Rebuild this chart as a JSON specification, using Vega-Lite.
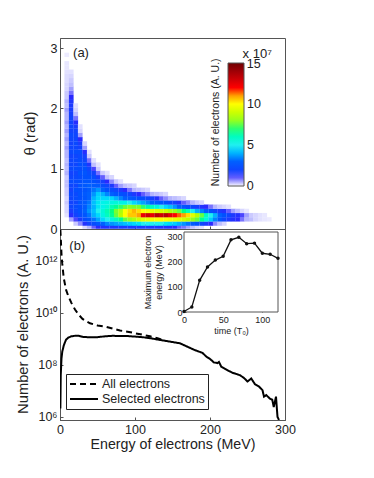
{"$schema":"https://vega.github.io/schema/vega-lite/v6.json","width":225,"height":382,"autosize":{"type":"none"},"padding":{"left":60,"top":38,"right":89,"bottom":58},"background":"white",
"config":{"font":"Liberation Sans","view":{"stroke":"#555","strokeWidth":1},"axis":{"grid":false,"labelFlush":false,"labelOverlap":false,"domainColor":"#555","tickColor":"#555","labelColor":"#222","titleColor":"#222","labelFont":"Liberation Sans","titleFont":"Liberation Sans","titleFontWeight":"normal"},"legend":{"labelFont":"Liberation Sans"}},
"datasets":{"cells":[
{"e":9,"t":0.23,"n":0.2},{"e":9,"t":0.3,"n":0.3},{"e":9,"t":0.37,"n":0.3},{"e":9,"t":0.44,"n":0.4},{"e":9,"t":0.51,"n":0.3},{"e":9,"t":0.58,"n":0.4},{"e":9,"t":0.65,"n":0.4},{"e":9,"t":0.72,"n":0.5},{"e":9,"t":0.79,"n":0.5},{"e":9,"t":0.86,"n":0.4},{"e":9,"t":0.93,"n":0.6},{"e":9,"t":1,"n":0.5},{"e":9,"t":1.07,"n":0.6},{"e":9,"t":1.14,"n":0.5},{"e":9,"t":1.21,"n":0.6},{"e":9,"t":1.28,"n":0.6},{"e":9,"t":1.35,"n":0.7},{"e":9,"t":1.42,"n":0.6},{"e":9,"t":1.49,"n":0.7},{"e":9,"t":1.56,"n":0.6},{"e":9,"t":1.63,"n":0.7},{"e":9,"t":1.7,"n":0.6},{"e":9,"t":1.77,"n":0.7},{"e":9,"t":1.84,"n":0.6},{"e":9,"t":1.91,"n":0.6},{"e":9,"t":1.98,"n":0.7},{"e":9,"t":2.05,"n":0.5},{"e":9,"t":2.12,"n":0.6},{"e":9,"t":2.19,"n":0.4},{"e":9,"t":2.26,"n":0.4},{"e":9,"t":2.33,"n":0.3},{"e":9,"t":2.4,"n":0.3},{"e":9,"t":2.47,"n":0.25},{"e":9,"t":2.54,"n":0.25},{"e":9,"t":2.61,"n":0.2},{"e":9,"t":2.68,"n":0.15},{"e":9,"t":2.75,"n":0.15},{"e":9,"t":2.89,"n":0.12},
{"e":15,"t":0.16,"n":0.7},{"e":15,"t":0.23,"n":1.3},{"e":15,"t":0.3,"n":1.7},{"e":15,"t":0.37,"n":2},{"e":15,"t":0.44,"n":1.9},{"e":15,"t":0.51,"n":2},{"e":15,"t":0.58,"n":2.1},{"e":15,"t":0.65,"n":1.9},{"e":15,"t":0.72,"n":2},{"e":15,"t":0.79,"n":2.2},{"e":15,"t":0.86,"n":2},{"e":15,"t":0.93,"n":1.9},{"e":15,"t":1,"n":2.1},{"e":15,"t":1.07,"n":2},{"e":15,"t":1.14,"n":2},{"e":15,"t":1.21,"n":1.9},{"e":15,"t":1.28,"n":2.1},{"e":15,"t":1.35,"n":2},{"e":15,"t":1.42,"n":1.9},{"e":15,"t":1.49,"n":2},{"e":15,"t":1.56,"n":2.1},{"e":15,"t":1.63,"n":1.9},{"e":15,"t":1.7,"n":2},{"e":15,"t":1.77,"n":1.9},{"e":15,"t":1.84,"n":2},{"e":15,"t":1.91,"n":1.8},{"e":15,"t":1.98,"n":1.7},{"e":15,"t":2.05,"n":1.6},{"e":15,"t":2.12,"n":1.5},{"e":15,"t":2.19,"n":1.2},{"e":15,"t":2.26,"n":0.9},{"e":15,"t":2.33,"n":0.7},{"e":15,"t":2.4,"n":0.5},{"e":15,"t":2.47,"n":0.4},{"e":15,"t":2.54,"n":0.3},{"e":15,"t":2.61,"n":0.2},
{"e":21,"t":0.09,"n":0.4},{"e":21,"t":0.16,"n":1.1},{"e":21,"t":0.23,"n":1.9},{"e":21,"t":0.3,"n":2.1},{"e":21,"t":0.37,"n":2.2},{"e":21,"t":0.44,"n":2},{"e":21,"t":0.51,"n":2.2},{"e":21,"t":0.58,"n":2.1},{"e":21,"t":0.65,"n":2.3},{"e":21,"t":0.72,"n":2},{"e":21,"t":0.79,"n":2.2},{"e":21,"t":0.86,"n":2.1},{"e":21,"t":0.93,"n":2},{"e":21,"t":1,"n":2.2},{"e":21,"t":1.07,"n":2},{"e":21,"t":1.14,"n":2.1},{"e":21,"t":1.21,"n":2},{"e":21,"t":1.28,"n":2.2},{"e":21,"t":1.35,"n":2},{"e":21,"t":1.42,"n":2.1},{"e":21,"t":1.49,"n":2},{"e":21,"t":1.56,"n":2},{"e":21,"t":1.63,"n":1.9},{"e":21,"t":1.7,"n":1.7},{"e":21,"t":1.77,"n":1.3},{"e":21,"t":1.84,"n":0.9},{"e":21,"t":1.91,"n":0.5},{"e":21,"t":1.98,"n":0.3},{"e":21,"t":2.05,"n":0.2},
{"e":27,"t":0.09,"n":0.8},{"e":27,"t":0.16,"n":1.7},{"e":27,"t":0.23,"n":2.2},{"e":27,"t":0.3,"n":2.4},{"e":27,"t":0.37,"n":2.3},{"e":27,"t":0.44,"n":2.5},{"e":27,"t":0.51,"n":2.3},{"e":27,"t":0.58,"n":2.4},{"e":27,"t":0.65,"n":2.3},{"e":27,"t":0.72,"n":2.5},{"e":27,"t":0.79,"n":2.3},{"e":27,"t":0.86,"n":2.2},{"e":27,"t":0.93,"n":2.4},{"e":27,"t":1,"n":2.2},{"e":27,"t":1.07,"n":2.3},{"e":27,"t":1.14,"n":2.2},{"e":27,"t":1.21,"n":2.1},{"e":27,"t":1.28,"n":2.2},{"e":27,"t":1.35,"n":1.9},{"e":27,"t":1.42,"n":1.7},{"e":27,"t":1.49,"n":1.2},{"e":27,"t":1.56,"n":0.7},{"e":27,"t":1.63,"n":0.3},{"e":27,"t":1.7,"n":0.2},
{"e":33,"t":0.04,"n":0.3},{"e":33,"t":0.09,"n":1.4},{"e":33,"t":0.16,"n":2.2},{"e":33,"t":0.23,"n":2.6},{"e":33,"t":0.3,"n":3},{"e":33,"t":0.37,"n":2.8},{"e":33,"t":0.44,"n":2.8},{"e":33,"t":0.51,"n":2.6},{"e":33,"t":0.58,"n":2.7},{"e":33,"t":0.65,"n":2.5},{"e":33,"t":0.72,"n":2.7},{"e":33,"t":0.79,"n":2.6},{"e":33,"t":0.86,"n":2.4},{"e":33,"t":0.93,"n":2.5},{"e":33,"t":1,"n":2.4},{"e":33,"t":1.07,"n":2.2},{"e":33,"t":1.14,"n":2},{"e":33,"t":1.21,"n":1.8},{"e":33,"t":1.28,"n":1.3},{"e":33,"t":1.35,"n":0.7},{"e":33,"t":1.42,"n":0.3},
{"e":39,"t":0.04,"n":0.6},{"e":39,"t":0.09,"n":1.9},{"e":39,"t":0.16,"n":2.6},{"e":39,"t":0.23,"n":3.2},{"e":39,"t":0.3,"n":3.6},{"e":39,"t":0.37,"n":3.4},{"e":39,"t":0.44,"n":3.2},{"e":39,"t":0.51,"n":3},{"e":39,"t":0.58,"n":3},{"e":39,"t":0.65,"n":2.8},{"e":39,"t":0.72,"n":3},{"e":39,"t":0.79,"n":2.6},{"e":39,"t":0.86,"n":2.4},{"e":39,"t":0.93,"n":2.2},{"e":39,"t":1,"n":2},{"e":39,"t":1.07,"n":1.5},{"e":39,"t":1.14,"n":0.9},{"e":39,"t":1.21,"n":0.4},{"e":39,"t":1.28,"n":0.2},
{"e":45,"t":0.04,"n":1},{"e":45,"t":0.09,"n":2.2},{"e":45,"t":0.16,"n":3.2},{"e":45,"t":0.23,"n":4},{"e":45,"t":0.3,"n":4.2},{"e":45,"t":0.37,"n":4},{"e":45,"t":0.44,"n":4.2},{"e":45,"t":0.51,"n":4},{"e":45,"t":0.58,"n":3.6},{"e":45,"t":0.65,"n":3.2},{"e":45,"t":0.72,"n":2.8},{"e":45,"t":0.79,"n":2.4},{"e":45,"t":0.86,"n":2.2},{"e":45,"t":0.93,"n":1.9},{"e":45,"t":1,"n":1.1},{"e":45,"t":1.07,"n":0.5},{"e":45,"t":1.14,"n":0.2},
{"e":51,"t":0.04,"n":1.2},{"e":51,"t":0.09,"n":2.6},{"e":51,"t":0.16,"n":3.8},{"e":51,"t":0.23,"n":4.6},{"e":51,"t":0.3,"n":5},{"e":51,"t":0.37,"n":4.8},{"e":51,"t":0.44,"n":4.8},{"e":51,"t":0.51,"n":4.6},{"e":51,"t":0.58,"n":4.4},{"e":51,"t":0.65,"n":3.6},{"e":51,"t":0.72,"n":2.8},{"e":51,"t":0.79,"n":2.2},{"e":51,"t":0.86,"n":1.7},{"e":51,"t":0.93,"n":0.9},{"e":51,"t":1,"n":0.4},{"e":51,"t":1.07,"n":0.2},
{"e":57,"t":0.04,"n":1.4},{"e":57,"t":0.09,"n":3},{"e":57,"t":0.16,"n":4.6},{"e":57,"t":0.23,"n":5.4},{"e":57,"t":0.3,"n":5.6},{"e":57,"t":0.37,"n":5.2},{"e":57,"t":0.44,"n":5.2},{"e":57,"t":0.51,"n":4.6},{"e":57,"t":0.58,"n":4},{"e":57,"t":0.65,"n":3},{"e":57,"t":0.72,"n":2.2},{"e":57,"t":0.79,"n":1.8},{"e":57,"t":0.86,"n":1},{"e":57,"t":0.93,"n":0.4},
{"e":63,"t":0.04,"n":1.4},{"e":63,"t":0.09,"n":3.4},{"e":63,"t":0.16,"n":5},{"e":63,"t":0.23,"n":6},{"e":63,"t":0.3,"n":6.2},{"e":63,"t":0.37,"n":5.6},{"e":63,"t":0.44,"n":5.4},{"e":63,"t":0.51,"n":4.6},{"e":63,"t":0.58,"n":3.4},{"e":63,"t":0.65,"n":2.4},{"e":63,"t":0.72,"n":2},{"e":63,"t":0.79,"n":1.2},{"e":63,"t":0.86,"n":0.5},{"e":63,"t":0.93,"n":0.2},
{"e":69,"t":0.04,"n":1.5},{"e":69,"t":0.09,"n":3.6},{"e":69,"t":0.16,"n":5.4},{"e":69,"t":0.23,"n":6.6},{"e":69,"t":0.3,"n":6.8},{"e":69,"t":0.37,"n":6.2},{"e":69,"t":0.44,"n":5.4},{"e":69,"t":0.51,"n":4.6},{"e":69,"t":0.58,"n":3},{"e":69,"t":0.65,"n":2.2},{"e":69,"t":0.72,"n":1.6},{"e":69,"t":0.79,"n":0.8},{"e":69,"t":0.86,"n":0.3},
{"e":75,"t":0.04,"n":1.5},{"e":75,"t":0.09,"n":3.8},{"e":75,"t":0.16,"n":6},{"e":75,"t":0.23,"n":7.4},{"e":75,"t":0.3,"n":7.6},{"e":75,"t":0.37,"n":6.6},{"e":75,"t":0.44,"n":5.6},{"e":75,"t":0.51,"n":4},{"e":75,"t":0.58,"n":2.6},{"e":75,"t":0.65,"n":2},{"e":75,"t":0.72,"n":1},{"e":75,"t":0.79,"n":0.4},
{"e":81,"t":0.04,"n":1.6},{"e":81,"t":0.09,"n":4},{"e":81,"t":0.16,"n":6.6},{"e":81,"t":0.23,"n":8.6},{"e":81,"t":0.3,"n":8.4},{"e":81,"t":0.37,"n":7},{"e":81,"t":0.44,"n":5.4},{"e":81,"t":0.51,"n":3.4},{"e":81,"t":0.58,"n":2.4},{"e":81,"t":0.65,"n":1.6},{"e":81,"t":0.72,"n":0.7},{"e":81,"t":0.79,"n":0.2},
{"e":87,"t":0.04,"n":1.6},{"e":87,"t":0.09,"n":4.2},{"e":87,"t":0.16,"n":7.4},{"e":87,"t":0.23,"n":10},{"e":87,"t":0.3,"n":10},{"e":87,"t":0.37,"n":7.4},{"e":87,"t":0.44,"n":5.2},{"e":87,"t":0.51,"n":3},{"e":87,"t":0.58,"n":2.2},{"e":87,"t":0.65,"n":1.2},{"e":87,"t":0.72,"n":0.5},
{"e":93,"t":0.04,"n":1.6},{"e":93,"t":0.09,"n":4.4},{"e":93,"t":0.16,"n":8},{"e":93,"t":0.23,"n":10.6},{"e":93,"t":0.3,"n":10.4},{"e":93,"t":0.37,"n":7.8},{"e":93,"t":0.44,"n":5},{"e":93,"t":0.51,"n":2.8},{"e":93,"t":0.58,"n":2},{"e":93,"t":0.65,"n":0.9},{"e":93,"t":0.72,"n":0.4},
{"e":99,"t":0.04,"n":1.6},{"e":99,"t":0.09,"n":4.6},{"e":99,"t":0.16,"n":8.4},{"e":99,"t":0.23,"n":10.6},{"e":99,"t":0.3,"n":10.8},{"e":99,"t":0.37,"n":7.6},{"e":99,"t":0.44,"n":4.6},{"e":99,"t":0.51,"n":2.6},{"e":99,"t":0.58,"n":1.6},{"e":99,"t":0.65,"n":0.6},{"e":99,"t":0.72,"n":0.3},
{"e":105,"t":0.04,"n":1.6},{"e":105,"t":0.09,"n":4.8},{"e":105,"t":0.16,"n":9},{"e":105,"t":0.23,"n":11},{"e":105,"t":0.3,"n":10.4},{"e":105,"t":0.37,"n":7.6},{"e":105,"t":0.44,"n":4.2},{"e":105,"t":0.51,"n":2.4},{"e":105,"t":0.58,"n":1.2},{"e":105,"t":0.65,"n":0.5},
{"e":111,"t":0.04,"n":1.6},{"e":111,"t":0.09,"n":5},{"e":111,"t":0.16,"n":9.4},{"e":111,"t":0.23,"n":12.4},{"e":111,"t":0.3,"n":10},{"e":111,"t":0.37,"n":7},{"e":111,"t":0.44,"n":3.8},{"e":111,"t":0.51,"n":2.2},{"e":111,"t":0.58,"n":1},{"e":111,"t":0.65,"n":0.4},
{"e":117,"t":0.04,"n":1.6},{"e":117,"t":0.09,"n":5},{"e":117,"t":0.16,"n":9.6},{"e":117,"t":0.23,"n":13},{"e":117,"t":0.3,"n":9.8},{"e":117,"t":0.37,"n":6.4},{"e":117,"t":0.44,"n":3.4},{"e":117,"t":0.51,"n":2},{"e":117,"t":0.58,"n":0.8},{"e":117,"t":0.65,"n":0.3},
{"e":123,"t":0.04,"n":1.5},{"e":123,"t":0.09,"n":5},{"e":123,"t":0.16,"n":9.8},{"e":123,"t":0.23,"n":12.5},{"e":123,"t":0.3,"n":9.6},{"e":123,"t":0.37,"n":6},{"e":123,"t":0.44,"n":3},{"e":123,"t":0.51,"n":1.8},{"e":123,"t":0.58,"n":0.6},
{"e":129,"t":0.04,"n":1.5},{"e":129,"t":0.09,"n":5},{"e":129,"t":0.16,"n":10},{"e":129,"t":0.23,"n":13.5},{"e":129,"t":0.3,"n":9.4},{"e":129,"t":0.37,"n":5.6},{"e":129,"t":0.44,"n":2.8},{"e":129,"t":0.51,"n":1.4},{"e":129,"t":0.58,"n":0.5},
{"e":135,"t":0.04,"n":1.4},{"e":135,"t":0.09,"n":5},{"e":135,"t":0.16,"n":10},{"e":135,"t":0.23,"n":13},{"e":135,"t":0.3,"n":9.2},{"e":135,"t":0.37,"n":5},{"e":135,"t":0.44,"n":2.6},{"e":135,"t":0.51,"n":1},{"e":135,"t":0.58,"n":0.4},
{"e":141,"t":0.04,"n":1.4},{"e":141,"t":0.09,"n":4.8},{"e":141,"t":0.16,"n":10},{"e":141,"t":0.23,"n":13.5},{"e":141,"t":0.3,"n":9},{"e":141,"t":0.37,"n":4.6},{"e":141,"t":0.44,"n":2.4},{"e":141,"t":0.51,"n":0.8},{"e":141,"t":0.58,"n":0.3},
{"e":147,"t":0.04,"n":1.3},{"e":147,"t":0.09,"n":4.6},{"e":147,"t":0.16,"n":9.8},{"e":147,"t":0.23,"n":12.6},{"e":147,"t":0.3,"n":8.4},{"e":147,"t":0.37,"n":4.2},{"e":147,"t":0.44,"n":2},{"e":147,"t":0.51,"n":0.6},
{"e":153,"t":0.04,"n":1.2},{"e":153,"t":0.09,"n":4.4},{"e":153,"t":0.16,"n":9.6},{"e":153,"t":0.23,"n":12},{"e":153,"t":0.3,"n":8},{"e":153,"t":0.37,"n":3.6},{"e":153,"t":0.44,"n":1.8},{"e":153,"t":0.51,"n":0.5},
{"e":159,"t":0.04,"n":1},{"e":159,"t":0.09,"n":4},{"e":159,"t":0.16,"n":9.4},{"e":159,"t":0.23,"n":11.6},{"e":159,"t":0.3,"n":7.4},{"e":159,"t":0.37,"n":3},{"e":159,"t":0.44,"n":1.4},{"e":159,"t":0.51,"n":0.4},
{"e":165,"t":0.04,"n":0.9},{"e":165,"t":0.09,"n":3.6},{"e":165,"t":0.16,"n":9},{"e":165,"t":0.23,"n":11},{"e":165,"t":0.3,"n":6.8},{"e":165,"t":0.37,"n":2.6},{"e":165,"t":0.44,"n":1},{"e":165,"t":0.51,"n":0.3},
{"e":171,"t":0.04,"n":0.7},{"e":171,"t":0.09,"n":3.2},{"e":171,"t":0.16,"n":8.6},{"e":171,"t":0.23,"n":10.4},{"e":171,"t":0.3,"n":6},{"e":171,"t":0.37,"n":2.2},{"e":171,"t":0.44,"n":0.8},
{"e":177,"t":0.04,"n":0.5},{"e":177,"t":0.09,"n":2.8},{"e":177,"t":0.16,"n":8},{"e":177,"t":0.23,"n":9.4},{"e":177,"t":0.3,"n":5},{"e":177,"t":0.37,"n":2},{"e":177,"t":0.44,"n":0.6},
{"e":183,"t":0.04,"n":0.3},{"e":183,"t":0.09,"n":2.4},{"e":183,"t":0.16,"n":7.4},{"e":183,"t":0.23,"n":8.6},{"e":183,"t":0.3,"n":4},{"e":183,"t":0.37,"n":1.8},{"e":183,"t":0.44,"n":0.4},
{"e":189,"t":0.04,"n":0.2},{"e":189,"t":0.09,"n":2},{"e":189,"t":0.16,"n":6.6},{"e":189,"t":0.23,"n":7.4},{"e":189,"t":0.3,"n":3.4},{"e":189,"t":0.37,"n":1.4},{"e":189,"t":0.44,"n":0.3},
{"e":195,"t":0.09,"n":1.6},{"e":195,"t":0.16,"n":5.6},{"e":195,"t":0.23,"n":6},{"e":195,"t":0.3,"n":2.8},{"e":195,"t":0.37,"n":1.2},
{"e":201,"t":0.09,"n":1.2},{"e":201,"t":0.16,"n":4.4},{"e":201,"t":0.23,"n":5},{"e":201,"t":0.3,"n":2.4},{"e":201,"t":0.37,"n":0.9},
{"e":207,"t":0.09,"n":0.8},{"e":207,"t":0.16,"n":3.4},{"e":207,"t":0.23,"n":4},{"e":207,"t":0.3,"n":2},{"e":207,"t":0.37,"n":0.6},
{"e":213,"t":0.09,"n":0.5},{"e":213,"t":0.16,"n":2.6},{"e":213,"t":0.23,"n":3},{"e":213,"t":0.3,"n":1.6},{"e":213,"t":0.37,"n":0.4},
{"e":219,"t":0.09,"n":0.3},{"e":219,"t":0.16,"n":2},{"e":219,"t":0.23,"n":2.4},{"e":219,"t":0.3,"n":1.4},{"e":219,"t":0.37,"n":0.3},
{"e":225,"t":0.16,"n":1.6},{"e":225,"t":0.23,"n":2},{"e":225,"t":0.3,"n":1},{"e":225,"t":0.37,"n":0.2},
{"e":231,"t":0.16,"n":1.4},{"e":231,"t":0.23,"n":1.6},{"e":231,"t":0.3,"n":0.7},
{"e":237,"t":0.16,"n":1.2},{"e":237,"t":0.23,"n":1.4},{"e":237,"t":0.3,"n":0.5},
{"e":243,"t":0.16,"n":0.9},{"e":243,"t":0.23,"n":1.1},{"e":243,"t":0.3,"n":0.3},
{"e":249,"t":0.16,"n":0.6},{"e":249,"t":0.23,"n":0.7},{"e":249,"t":0.3,"n":0.15},
{"e":255,"t":0.16,"n":0.5},{"e":255,"t":0.23,"n":0.4},
{"e":261,"t":0.16,"n":0.3},{"e":261,"t":0.23,"n":0.3},
{"e":267,"t":0.16,"n":0.2},{"e":267,"t":0.23,"n":0.2},
{"e":273,"t":0.16,"n":0.15},{"e":273,"t":0.23,"n":0.15},
{"e":279,"t":0.16,"n":0.12}
],
"spectra":[
{"E":0.5,"v":1.6e13,"s":"All electrons"},{"E":1,"v":7.9e12,"s":"All electrons"},{"E":2,"v":1.8e12,"s":"All electrons"},{"E":3,"v":7.9e11,"s":"All electrons"},{"E":5,"v":2.2e11,"s":"All electrons"},{"E":8,"v":7.9e10,"s":"All electrons"},{"E":11,"v":4.5e10,"s":"All electrons"},{"E":15,"v":2.5e10,"s":"All electrons"},{"E":20,"v":1.35e10,"s":"All electrons"},{"E":25,"v":8.5e9,"s":"All electrons"},{"E":30,"v":5.9e9,"s":"All electrons"},{"E":35,"v":4.8e9,"s":"All electrons"},{"E":40,"v":4e9,"s":"All electrons"},{"E":50,"v":3.3e9,"s":"All electrons"},{"E":60,"v":3e9,"s":"All electrons"},{"E":70,"v":2.5e9,"s":"All electrons"},{"E":80,"v":2.1e9,"s":"All electrons"},{"E":90,"v":1.9e9,"s":"All electrons"},{"E":100,"v":1.66e9,"s":"All electrons"},{"E":110,"v":1.45e9,"s":"All electrons"},{"E":120,"v":1.26e9,"s":"All electrons"},{"E":130,"v":1.07e9,"s":"All electrons"},{"E":140,"v":8.6e8,"s":"All electrons"},
{"E":0.5,"v":2.1e6,"s":"Selected electrons"},{"E":1,"v":4e7,"s":"Selected electrons"},{"E":2,"v":1.8e8,"s":"Selected electrons"},{"E":3,"v":3.2e8,"s":"Selected electrons"},{"E":5,"v":5.6e8,"s":"Selected electrons"},{"E":8,"v":9.3e8,"s":"Selected electrons"},{"E":11,"v":1.12e9,"s":"Selected electrons"},{"E":15,"v":1.26e9,"s":"Selected electrons"},{"E":20,"v":1.32e9,"s":"Selected electrons"},{"E":25,"v":1.32e9,"s":"Selected electrons"},{"E":30,"v":1.2e9,"s":"Selected electrons"},{"E":40,"v":1.15e9,"s":"Selected electrons"},{"E":50,"v":1.17e9,"s":"Selected electrons"},{"E":60,"v":1.26e9,"s":"Selected electrons"},{"E":70,"v":1.32e9,"s":"Selected electrons"},{"E":80,"v":1.29e9,"s":"Selected electrons"},{"E":90,"v":1.29e9,"s":"Selected electrons"},{"E":100,"v":1.23e9,"s":"Selected electrons"},{"E":110,"v":1.17e9,"s":"Selected electrons"},{"E":120,"v":1.07e9,"s":"Selected electrons"},{"E":130,"v":9.5e8,"s":"Selected electrons"},{"E":140,"v":8.5e8,"s":"Selected electrons"},{"E":150,"v":7.6e8,"s":"Selected electrons"},{"E":160,"v":6.8e8,"s":"Selected electrons"},{"E":170,"v":5e8,"s":"Selected electrons"},{"E":180,"v":3.7e8,"s":"Selected electrons"},{"E":190,"v":2.9e8,"s":"Selected electrons"},{"E":195,"v":2.1e8,"s":"Selected electrons"},{"E":200,"v":1.7e8,"s":"Selected electrons"},{"E":205,"v":1.26e8,"s":"Selected electrons"},{"E":210,"v":1.17e8,"s":"Selected electrons"},{"E":212,"v":1.3e8,"s":"Selected electrons"},{"E":215,"v":8.5e7,"s":"Selected electrons"},{"E":220,"v":7.1e7,"s":"Selected electrons"},{"E":225,"v":5.9e7,"s":"Selected electrons"},{"E":230,"v":5e7,"s":"Selected electrons"},{"E":235,"v":4.5e7,"s":"Selected electrons"},{"E":240,"v":4e7,"s":"Selected electrons"},{"E":245,"v":3.2e7,"s":"Selected electrons"},{"E":250,"v":2.3e7,"s":"Selected electrons"},{"E":255,"v":3e7,"s":"Selected electrons"},{"E":260,"v":1.8e7,"s":"Selected electrons"},{"E":265,"v":1.5e7,"s":"Selected electrons"},{"E":270,"v":1.07e7,"s":"Selected electrons"},{"E":272,"v":6e6,"s":"Selected electrons"},{"E":275,"v":6.9e6,"s":"Selected electrons"},{"E":280,"v":5e6,"s":"Selected electrons"},{"E":283,"v":4.6e6,"s":"Selected electrons"},{"E":285,"v":2.4e6,"s":"Selected electrons"},{"E":288,"v":6e6,"s":"Selected electrons"},{"E":290,"v":1e6,"s":"Selected electrons"},{"E":292,"v":7.6e5,"s":"Selected electrons"}
],
"inset":[{"T":0,"M":2},{"T":10,"M":20},{"T":20,"M":125},{"T":30,"M":178},{"T":40,"M":205},{"T":50,"M":220},{"T":60,"M":285},{"T":70,"M":295},{"T":80,"M":270},{"T":90,"M":272},{"T":100,"M":232},{"T":110,"M":228},{"T":120,"M":212}]},
"resolve":{"scale":{"x":"independent","y":"independent","color":"independent"},"axis":{"x":"independent","y":"independent"}},
"layer":[
{"layer":[
{"data":{"name":"cells"},"mark":{"type":"rect","width":4.7,"height":4.4},"encoding":{
"x":{"field":"e","type":"quantitative","scale":{"domain":[0,300],"range":[0,225],"nice":false},"axis":{"orient":"bottom","offset":-191,"values":[0,100,200,300],"labels":false,"tickSize":-3,"title":null}},
"y":{"field":"t","type":"quantitative","scale":{"domain":[0,3.17],"range":[191,0],"nice":false},"axis":{"orient":"left","values":[0,1,2,3],"format":".0f","tickSize":-3,"labelFontSize":12.5,"labelPadding":6,"title":"θ (rad)","titleFontSize":15,"titleX":-23,"titleY":95}},
"color":{"field":"n","type":"quantitative","scale":{"domain":[0,0.6,1.2,3,5,7.5,10,12,15],"range":["#ffffff","#b4b4ff","#2a2aff","#0060ff","#20f0f0","#70ff30","#ffff00","#ff0000","#700000"]},"legend":{"orient":"none","legendX":168,"legendY":25,"gradientLength":123,"gradientThickness":16,"title":null,"values":[5,10],"labelFontSize":12.5,"labelColor":"#222","labelBaseline":"middle","gradientStrokeColor":"#555","gradientStrokeWidth":1,"labelOffset":3,"direction":"vertical"}}}},
{"data":{"values":[{"e":28,"t":2.92,"l":"(a)"},{"e":263,"t":2.9,"l":"x 10⁷"}]},"mark":{"type":"text","align":"center","baseline":"middle","fontSize":13,"color":"#222"},"encoding":{"x":{"field":"e","type":"quantitative"},"y":{"field":"t","type":"quantitative"},"text":{"field":"l"}}},
{"data":{"values":[{"e":249,"t":2.74,"l":"15"},{"e":249,"t":0.71,"l":"0"}]},"mark":{"type":"text","align":"left","baseline":"middle","fontSize":12.5,"color":"#222"},"encoding":{"x":{"field":"e","type":"quantitative"},"y":{"field":"t","type":"quantitative"},"text":{"field":"l"}}},
{"data":{"values":[{"e":208,"t":1.77,"l":"Number of electrons (A. U.)"}]},"mark":{"type":"text","angle":270,"align":"center","baseline":"middle","fontSize":10.5,"color":"#222"},"encoding":{"x":{"field":"e","type":"quantitative"},"y":{"field":"t","type":"quantitative"},"text":{"field":"l"}}}
]},
{"layer":[
{"data":{"name":"spectra"},"mark":{"type":"line","color":"black","strokeWidth":2,"clip":true},"encoding":{
"x":{"field":"E","type":"quantitative","scale":{"domain":[0,300],"range":[0,225],"nice":false},"axis":{"orient":"bottom","values":[0,100,200,300],"tickSize":-3,"labelFontSize":12.5,"labelPadding":6,"title":"Energy of electrons (MeV)","titleFontSize":14.2,"titlePadding":2}},
"y":{"field":"v","type":"quantitative","scale":{"type":"log","domain":[758578,17000000000000],"range":[382,191],"nice":false},"axis":{"orient":"left","values":[1000000,100000000,10000000000,1000000000000],"tickSize":-3,"labelFontSize":12.5,"labelPadding":6,"labelExpr":"datum.value<2e6?'10⁶':datum.value<2e8?'10⁸':datum.value<2e10?'10¹⁰':'10¹²'","title":"Number of electrons (A. U.)","titleFontSize":14.7,"titleX":-30,"titleY":286}},
"strokeDash":{"field":"s","type":"nominal","scale":{"domain":["All electrons","Selected electrons"],"range":[[6,4],[1,0]]},"legend":{"orient":"none","legendX":6,"legendY":336,"title":null,"fillColor":"white","strokeColor":"#222","padding":3,"labelFontSize":12.5,"labelColor":"#222","symbolType":"stroke","symbolStrokeWidth":2,"symbolSize":784,"clipHeight":14,"rowPadding":1,"labelOffset":3,"labelLimit":200}}}},
{"data":{"values":[{"E":23,"v":3700000000000,"l":"(b)"}]},"mark":{"type":"text","align":"center","baseline":"middle","fontSize":13,"color":"#222"},"encoding":{"x":{"field":"E","type":"quantitative"},"y":{"field":"v","type":"quantitative"},"text":{"field":"l"}}}
]},
{"layer":[
{"data":{"values":[{"a":0,"b":120,"c":0,"d":316}]},"mark":{"type":"rect","fill":"white","stroke":"#555","strokeWidth":1},"encoding":{
"x":{"field":"a","type":"quantitative","scale":{"domain":[0,120],"range":[124,218],"nice":false},"axis":{"orient":"bottom","offset":-108,"values":[0,50,100],"tickSize":-2,"labelFontSize":9,"labelPadding":5,"title":"time (T₀)","titleFontSize":9,"titlePadding":2,"domain":false}},"x2":{"field":"b"},
"y":{"field":"c","type":"quantitative","scale":{"domain":[0,316],"range":[274,194],"nice":false},"axis":{"orient":"left","offset":-124,"values":[0,100,200,300],"tickSize":-2,"labelFontSize":9,"labelPadding":4,"title":["Maximum electron","energy (MeV)"],"titleFontSize":9,"titlePadding":3,"domain":false}},"y2":{"field":"d"}}},
{"data":{"name":"inset"},"mark":{"type":"line","color":"#111","strokeWidth":1.3,"point":{"filled":true,"color":"#111","size":12}},"encoding":{"x":{"field":"T","type":"quantitative"},"y":{"field":"M","type":"quantitative"}}}
]}
]}
